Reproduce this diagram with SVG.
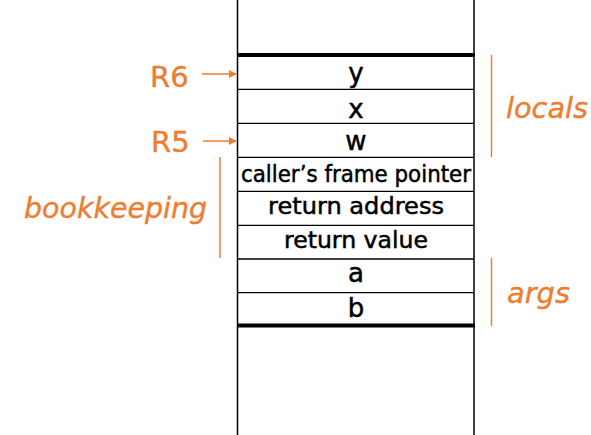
<svg xmlns="http://www.w3.org/2000/svg" width="591" height="435" viewBox="0 0 591 435">
  <defs>
    <marker id="ah" viewBox="0 0 10 10" refX="9" refY="5" markerWidth="8" markerHeight="8" markerUnits="userSpaceOnUse" orient="auto">
      <path d="M0,0 L10,5 L0,10 z" fill="#ED7D31"/>
    </marker>
    <style>
      .frame { stroke: #000; stroke-width: 1.5; fill: none; }
      .thick { stroke: #000; stroke-width: 4; }
      .row { stroke: #000; stroke-width: 1.3; }
      .cell { font-family: "DejaVu Sans", "Liberation Sans", sans-serif; font-size: 23px; fill: #000; stroke: #000; stroke-width: 0.5; text-anchor: middle; }
      .one { font-size: 26px; }
      .reg { font-family: "DejaVu Sans", "Liberation Sans", sans-serif; font-size: 29px; fill: #ED7D31; stroke: #ED7D31; stroke-width: 0.4; }
      .lbl { font-family: "DejaVu Sans", "Liberation Sans", sans-serif; font-size: 29px; font-style: italic; fill: #ED7D31; stroke: #ED7D31; stroke-width: 0.4; }
      .brk { stroke: #ED7D31; stroke-width: 1.5; fill: none; }
      .ptr { stroke: #ED7D31; stroke-width: 1.5; fill: none; marker-end: url(#ah); }
    </style>
  </defs>

  <!-- stack walls and frame boundaries -->
  <g id="stack">
    <line class="frame" x1="237.5" y1="0" x2="237.5" y2="435"/>
    <line class="frame" x1="474" y1="0" x2="474" y2="435"/>
    <line class="thick" x1="237" y1="55" x2="475" y2="55"/>
    <line class="thick" x1="237" y1="325.5" x2="475" y2="325.5"/>
    <line class="row" x1="237" y1="89.3" x2="474" y2="89.3"/>
    <line class="row" x1="237" y1="123.3" x2="474" y2="123.3"/>
    <line class="row" x1="237" y1="157.3" x2="474" y2="157.3"/>
    <line class="row" x1="237" y1="191.3" x2="474" y2="191.3"/>
    <line class="row" x1="237" y1="225.3" x2="474" y2="225.3"/>
    <line class="row" x1="237" y1="259" x2="474" y2="259"/>
    <line class="row" x1="237" y1="292.7" x2="474" y2="292.7"/>
  </g>

  <g id="cell-y"><text class="cell one" x="356" y="82">y</text></g>
  <g id="cell-x"><text class="cell one" x="356" y="118">x</text></g>
  <g id="cell-w"><text class="cell one" x="356" y="150">w</text></g>
  <g id="cell-cfp"><text class="cell" x="356" y="182" textLength="230" lengthAdjust="spacingAndGlyphs">caller’s frame pointer</text></g>
  <g id="cell-ra"><text class="cell" x="356" y="214" textLength="176" lengthAdjust="spacingAndGlyphs">return address</text></g>
  <g id="cell-rv"><text class="cell" x="356" y="248" textLength="144" lengthAdjust="spacingAndGlyphs">return value</text></g>
  <g id="cell-a"><text class="cell one" x="356" y="282">a</text></g>
  <g id="cell-b"><text class="cell one" x="356" y="316.5">b</text></g>

  <g id="reg-r6"><text class="reg" x="150" y="87">R6</text></g>
  <g id="reg-r5"><text class="reg" x="151" y="151.5">R5</text></g>

  <g id="group-locals">
    <line class="brk" x1="491.5" y1="55" x2="491.5" y2="157"/>
    <text class="lbl" x="506" y="118.3" textLength="82" lengthAdjust="spacingAndGlyphs">locals</text>
  </g>
  <g id="group-bookkeeping">
    <line class="brk" x1="220" y1="157" x2="220" y2="258"/>
    <text class="lbl" x="24" y="218.3" textLength="183" lengthAdjust="spacingAndGlyphs">bookkeeping</text>
  </g>
  <g id="group-args">
    <line class="brk" x1="491.5" y1="258" x2="491.5" y2="326"/>
    <text class="lbl" x="507" y="303" textLength="63" lengthAdjust="spacingAndGlyphs">args</text>
  </g>

  <g id="connectors">
    <line class="ptr" x1="202" y1="74" x2="236" y2="74"/>
    <line class="ptr" x1="203" y1="141" x2="236" y2="141"/>
  </g>
</svg>
